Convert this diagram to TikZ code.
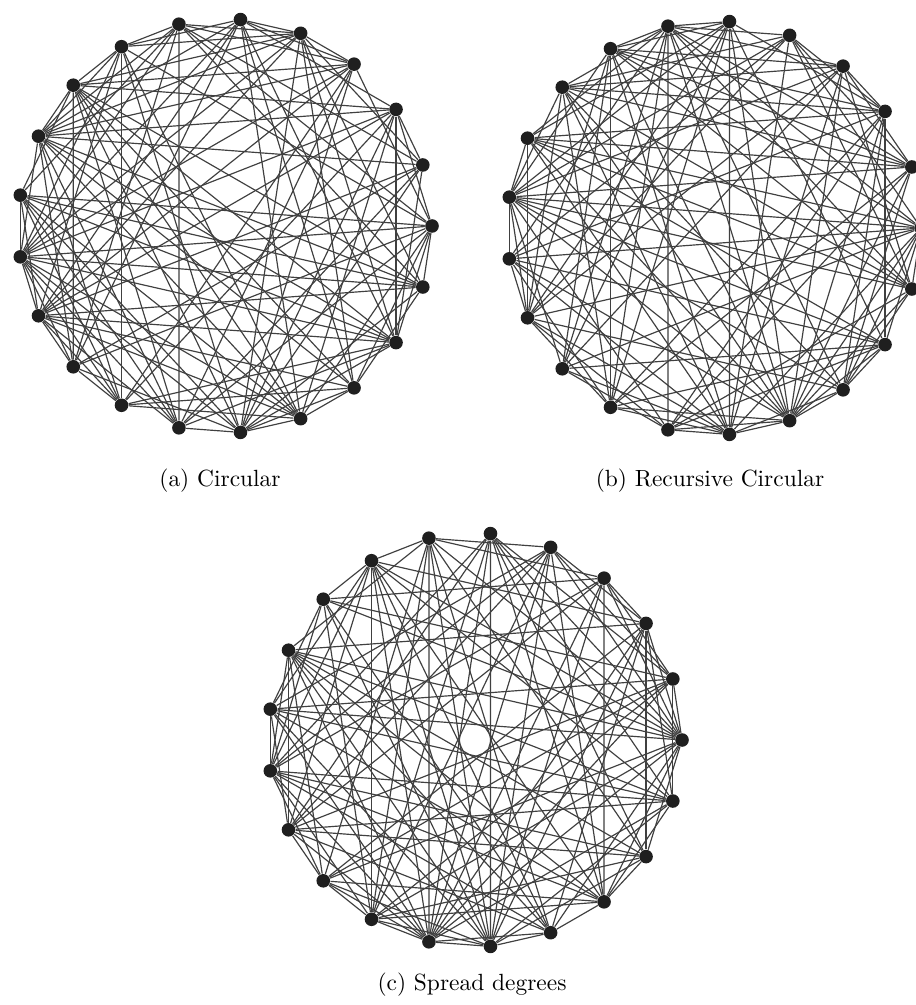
\documentclass[tikz,border=0pt]{standalone}
\usepackage{xcolor}
\usepackage{tikz}

% neighbours j > i of every vertex i
\newcommand{\graphedges}{%
  0/{1,3,4,6,8,9,11,12,13,15,17,18,19,20},%
  1/{2,5,7,10,12,14,16,18,19,20},%
  2/{3,6,7,9,11,12,14,15,17,20},%
  3/{5,7,8,11,12,14,16,18},%
  4/{7,9,10,12,14,15,17,19},%
  5/{6,7,9,11,13,14,15,17,20},%
  6/{7,10,11,12,14,16,18,20},%
  7/{8,9,11,12,13,15,17,19,20},%
  8/{10,12,13,14,16,18,20},%
  9/{11,14,15,16,18,20},%
  10/{12,13,14,16,17,19,20},%
  11/{13,14,16,18,20},%
  12/{14,15,18,20},%
  13/{15,16,18,19,20},%
  14/{15,17,18,19,20},%
  15/{16,18,19,20},%
  16/{17,19,20},%
  17/{18,20},%
  18/{19},%
  19/{20}}

% vertex / slot on the circle
\newcommand{\layoutA}{0/16,1/3,2/5,3/18,4/1,5/14,6/7,7/12,8/20,9/2,10/6,11/17,12/4,13/10,14/9,15/19,16/0,17/13,18/8,19/15,20/11}
\newcommand{\layoutB}{0/16,1/9,2/20,3/4,4/13,5/1,6/18,7/6,8/11,9/3,10/19,11/8,12/0,13/14,14/10,15/7,16/2,17/15,18/12,19/5,20/17}
\newcommand{\layoutC}{0/11,1/4,2/6,3/19,4/8,5/2,6/13,7/16,8/5,9/17,10/1,11/9,12/14,13/20,14/0,15/7,16/12,17/3,18/18,19/10,20/15}

\begin{document}
\begin{tikzpicture}[x=0.015cm, y=-0.015cm,
    vertex/.style={circle, fill=black!88, inner sep=0pt, minimum size=5.8pt},
    link/.style={black!75, line width=0.5pt}]

    \path[use as bounding box, fill=white] (0,0) rectangle (915,1005);

    % (a)
    \begin{scope}[shift={(225,226)}]
        \foreach \v/\p in \layoutA
            \node[vertex] (a\v) at ({-\p*360/21}:207) {};
    \end{scope}

    % (b)
    \begin{scope}[shift={(714,228)}]
        \foreach \v/\p in \layoutB
            \node[vertex] (b\v) at ({-\p*360/21}:207) {};
    \end{scope}

    % (c)
    \begin{scope}[shift={(475,740)}]
        \foreach \v/\p in \layoutC
            \node[vertex] (c\v) at ({-\p*360/21}:207) {};
    \end{scope}

    \foreach \g in {a,b,c}
        \foreach \i/\nb in \graphedges
            \foreach \j in \nb
                \draw[link] (\g\i) -- (\g\j);

    \node (capa) at (220,481) {(a) Circular};
    \node (capb) at (710,481) {(b) Recursive Circular};
    \node (capc) at (472,985) {(c) Spread degrees};

\end{tikzpicture}
\end{document}
